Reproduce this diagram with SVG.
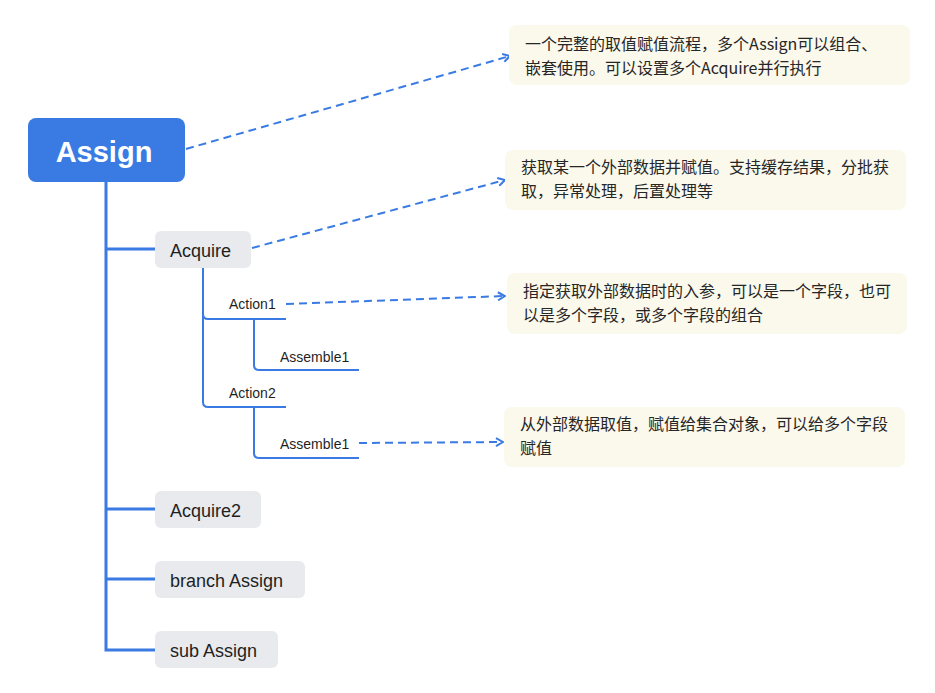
<svg xmlns="http://www.w3.org/2000/svg" width="935" height="693" viewBox="0 0 935 693">
<style>
.node{fill:#e8eaed;}
.lbl{font-family:"Liberation Sans",Arial,sans-serif;font-size:18px;fill:#1f1f1f;}
.small{font-family:"Liberation Sans",Arial,sans-serif;font-size:14px;fill:#1f1f1f;}
.note{fill:#fbf8ec;}
.nt{font-family:"Noto Sans CJK SC","Liberation Sans",sans-serif;font-size:16px;fill:#262626;}
.trunk{fill:none;stroke:#3a7be3;stroke-width:3;}
.sub{fill:none;stroke:#3a7be3;stroke-width:2;}
.dash{fill:none;stroke:#3a7be3;stroke-width:2;stroke-dasharray:8 5;marker-end:url(#arr);}
</style>
<defs>
<marker id="arr" viewBox="0 0 10 10" refX="9" refY="5" markerWidth="10" markerHeight="10" markerUnits="userSpaceOnUse" orient="auto">
<path d="M2,1 L9,5 L2,9" fill="none" stroke="#3a7be3" stroke-width="2"/>
</marker>
</defs>
<rect width="935" height="693" fill="#ffffff"/>
<g id="connectors">
<path class="trunk" d="M106,182 V650 H155"/>
<path class="trunk" d="M106,249 H155"/>
<path class="trunk" d="M106,509 H155"/>
<path class="trunk" d="M106,579 H155"/>
<path class="sub" d="M203,268 V314 Q203,319 208,319 H286"/>
<path class="sub" d="M203,268 V402 Q203,407 208,407 H286"/>
<path class="sub" d="M254,319 V365 Q254,370 259,370 H359"/>
<path class="sub" d="M254,407 V453 Q254,458 259,458 H359"/>
<path class="dash" d="M186,149 L510,56"/>
<path class="dash" d="M252,248 L505,180"/>
<path class="dash" d="M286,304 L505,296"/>
<path class="dash" d="M359,443 L503,442"/>
</g>
<g id="assign">
<rect x="28" y="118" width="157" height="64" rx="8" fill="#3a7be3"/>
<text x="104" y="162" text-anchor="middle" font-family="Liberation Sans,Arial,sans-serif" font-size="29" font-weight="bold" fill="#ffffff">Assign</text>
</g>
<g id="acquire">
<rect class="node" x="155" y="231" width="96" height="37" rx="6"/>
<text class="lbl" x="170" y="257">Acquire</text>
</g>
<g id="action1">
<text class="small" x="229" y="309">Action1</text>
</g>
<g id="assemble1a">
<text class="small" x="280" y="362">Assemble1</text>
</g>
<g id="action2">
<text class="small" x="229" y="398">Action2</text>
</g>
<g id="assemble1b">
<text class="small" x="280" y="449">Assemble1</text>
</g>
<g id="acquire2">
<rect class="node" x="155" y="491" width="106" height="37" rx="6"/>
<text class="lbl" x="170" y="517">Acquire2</text>
</g>
<g id="branch-assign">
<rect class="node" x="155" y="561" width="150" height="37" rx="6"/>
<text class="lbl" x="170" y="587">branch Assign</text>
</g>
<g id="sub-assign">
<rect class="node" x="155" y="631" width="123" height="37" rx="6"/>
<text class="lbl" x="170" y="657">sub Assign</text>
</g>
<g id="note1">
<rect class="note" x="509" y="25" width="401" height="60" rx="8"/>
<text class="nt" x="525" y="50">一个完整的取值赋值流程，多个Assign可以组合、</text>
<text class="nt" x="525" y="74">嵌套使用。可以设置多个Acquire并行执行</text>
</g>
<g id="note2">
<rect class="note" x="505" y="150" width="401" height="60" rx="8"/>
<text class="nt" x="521" y="173">获取某一个外部数据并赋值。支持缓存结果，分批获</text>
<text class="nt" x="521" y="197">取，异常处理，后置处理等</text>
</g>
<g id="note3">
<rect class="note" x="507" y="273" width="400" height="61" rx="8"/>
<text class="nt" x="523" y="297">指定获取外部数据时的入参，可以是一个字段，也可</text>
<text class="nt" x="523" y="321">以是多个字段，或多个字段的组合</text>
</g>
<g id="note4">
<rect class="note" x="504" y="407" width="401" height="60" rx="8"/>
<text class="nt" x="520" y="430">从外部数据取值，赋值给集合对象，可以给多个字段</text>
<text class="nt" x="520" y="454">赋值</text>
</g>
</svg>
